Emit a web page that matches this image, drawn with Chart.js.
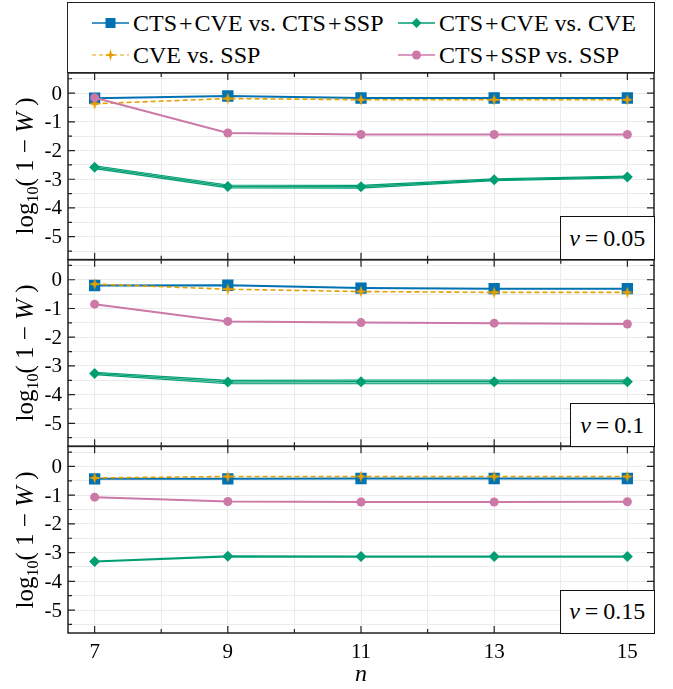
<!DOCTYPE html>
<html>
<head>
<meta charset="utf-8">
<script src="https://cdn.jsdelivr.net/npm/chart.js@4.4.1/dist/chart.umd.min.js"></script>
<style>
	body { margin: 0; background: #fff; }
	#wrap { position: relative; width: 673px; height: 689px; font-family: "Liberation Serif", serif; color: #000; }
	#chart { position: absolute; left: 0; top: 0; }
	.legend { position: absolute; left: 67px; top: 2px; width: 588px; height: 71px; box-sizing: border-box; border: 1.5px solid #222; background: #fff; }
	.item { position: absolute; height: 28px; display: flex; align-items: center; font-size: 24px; white-space: nowrap; }
	.item svg { margin-right: 3px; }
	.p { margin: 0 2px; }
	.ylab { position: absolute; font-size: 25px; white-space: nowrap; transform: translate(-50%, -50%) rotate(-90deg); }
	.ylab sub { font-size: 16px; vertical-align: -5px; }
	.vbox { position: absolute; box-sizing: border-box; border: 1.3px solid #111; background: #fff; font-size: 24px; display: flex; align-items: center; justify-content: center; }
</style>
</head>
<body>
<div id="wrap">
	<canvas id="chart" width="673" height="689"></canvas>
	<div class="legend"></div>
	<div class="item" style="left:92px;top:9px">
		<svg width="38" height="16"><line x1="0" y1="8" x2="37" y2="8" stroke="#0072B2" stroke-width="1.5"/><rect x="13.5" y="3" width="10" height="10" fill="#0072B2"/></svg>CTS<span class="p">+</span>CVE vs. CTS<span class="p">+</span>SSP
	</div>
	<div class="item" style="left:398px;top:9px">
		<svg width="38" height="16"><line x1="0" y1="8" x2="37" y2="8" stroke="#009E73" stroke-width="1.5"/><path d="M18.5 3 L23.5 8 L18.5 13 L13.5 8 Z" fill="#009E73"/></svg>CTS<span class="p">+</span>CVE vs. CVE
	</div>
	<div class="item" style="left:92px;top:41px">
		<svg width="38" height="16"><line x1="0" y1="8" x2="37" y2="8" stroke="#E69F00" stroke-width="1.2" stroke-dasharray="4 3"/><path d="M18.5 2 L19.8 6.7 L24.5 8 L19.8 9.3 L18.5 14 L17.2 9.3 L12.5 8 L17.2 6.7 Z" fill="#E69F00"/></svg>CVE vs. SSP
	</div>
	<div class="item" style="left:398px;top:41px">
		<svg width="38" height="16"><line x1="0" y1="8" x2="37" y2="8" stroke="#CC79A7" stroke-width="1.5"/><circle cx="18.5" cy="8" r="4.5" fill="#CC79A7"/></svg>CTS<span class="p">+</span>SSP vs. SSP
	</div>
</div>
<script>
const nValues = [7, 9, 11, 13, 15];
const xTickValues = [7, 8, 9, 10, 11, 12, 13, 14, 15];
const yTickValues = [-5.5, -5, -4.5, -4, -3.5, -3, -2.5, -2, -1.5, -1, -0.5, 0, 0.5];
const panelNames = ["0.05", "0.1", "0.15"];

// v = 0.05
const blue05 = [-0.18, -0.10, -0.17, -0.17, -0.17];
const green05 = [-2.58, -3.25, -3.26, -3.02, -2.92];
const greenLo05 = [-2.63, -3.30, -3.31, -3.05, -2.95];
const greenHi05 = [-2.53, -3.20, -3.21, -2.99, -2.89];
const orange05 = [-0.37, -0.19, -0.23, -0.23, -0.23];
const pink05 = [-0.16, -1.39, -1.44, -1.44, -1.44];

// v = 0.1
const blue10 = [-0.20, -0.19, -0.29, -0.31, -0.31];
const green10 = [-3.26, -3.56, -3.55, -3.55, -3.55];
const greenLo10 = [-3.30, -3.62, -3.62, -3.62, -3.62];
const greenHi10 = [-3.22, -3.50, -3.49, -3.49, -3.49];
const orange10 = [-0.15, -0.33, -0.41, -0.44, -0.44];
const pink10 = [-0.85, -1.45, -1.49, -1.51, -1.54];

// v = 0.15
const blue15 = [-0.43, -0.43, -0.42, -0.42, -0.42];
const green15 = [-3.31, -3.13, -3.14, -3.14, -3.14];
const orange15 = [-0.40, -0.35, -0.35, -0.35, -0.35];
const pink15 = [-1.07, -1.22, -1.24, -1.24, -1.23];

const BLUE = "#0072B2", GREEN = "#009E73", ORANGE = "#E69F00", PINK = "#CC79A7";
const FONT = "'Liberation Serif', serif";
const GRID = "#ebebeb";

const isWhole = v => Math.abs(v - Math.round(v)) < 1e-6;

// 4 pointed star for the CVE vs. SSP markers
const star = document.createElement("canvas");
star.width = 14;
star.height = 14;
{
	const c = star.getContext("2d");
	c.fillStyle = ORANGE;
	c.beginPath();
	c.moveTo(7, 1); c.lineTo(8.4, 5.6); c.lineTo(13, 7); c.lineTo(8.4, 8.4);
	c.lineTo(7, 13); c.lineTo(5.6, 8.4); c.lineTo(1, 7); c.lineTo(5.6, 5.6);
	c.closePath();
	c.fill();
}

const styles = {
	blue: { borderColor: BLUE, backgroundColor: BLUE, borderWidth: 2, pointStyle: "rect", pointRadius: 8, pointBorderWidth: 0, order: 5 },
	green: { borderColor: GREEN, backgroundColor: GREEN, borderWidth: 2.2, pointStyle: "rectRot", pointRadius: 5.5, pointBorderWidth: 0, order: 3 },
	orange: { borderColor: ORANGE, backgroundColor: ORANGE, borderWidth: 1.6, borderDash: [5, 3], pointStyle: star, pointRadius: 7, pointBorderWidth: 0, order: 2 },
	pink: { borderColor: PINK, backgroundColor: PINK, borderWidth: 2, pointStyle: "circle", pointRadius: 4.5, pointBorderWidth: 0, order: 1 },
	band: { borderColor: GREEN, borderWidth: 1.2, pointRadius: 0, backgroundColor: "rgba(0,158,115,0.35)", order: 4 }
};

function series(values, axis, style, extra) {
	return Object.assign({ data: values.map((v, i) => ({ x: nValues[i], y: v })), yAxisID: axis, fill: false }, styles[style], extra || {});
}

const datasets = [
	series(blue05, "y1", "blue"),
	series(greenLo05, "y1", "band"),
	series(greenHi05, "y1", "band", { fill: "-1" }),
	series(green05, "y1", "green", { borderWidth: 1.2 }),
	series(orange05, "y1", "orange"),
	series(pink05, "y1", "pink"),

	series(blue10, "y2", "blue"),
	series(greenLo10, "y2", "band"),
	series(greenHi10, "y2", "band", { fill: "-1" }),
	series(green10, "y2", "green", { borderWidth: 1.2 }),
	series(orange10, "y2", "orange"),
	series(pink10, "y2", "pink"),

	series(blue15, "y3", "blue"),
	series(green15, "y3", "green"),
	series(orange15, "y3", "orange"),
	series(pink15, "y3", "pink")
];

function panelScale() {
	return {
		type: "linear",
		position: "left",
		stack: "panels",
		stackWeight: 1,
		min: -5.8,
		max: 0.7,
		afterBuildTicks: s => { s.ticks = yTickValues.map(v => ({ value: v })); },
		afterFit: s => { s.width = 68; },
		border: { display: false },
		grid: { color: GRID, drawTicks: false },
		ticks: { display: false }
	};
}

// frame, inward ticks on all four sides and y tick labels of each panel
const framePlugin = {
	id: "frame",
	afterDraw(chart) {
		const ctx = chart.ctx;
		const x = chart.scales.x;
		const area = chart.chartArea;
		ctx.save();
		ctx.strokeStyle = "#222";
		ctx.fillStyle = "#000";
		ctx.font = "21px " + FONT;
		ctx.textAlign = "right";
		ctx.textBaseline = "middle";
		for (const id of ["y1", "y2", "y3"]) {
			const y = chart.scales[id];
			ctx.lineWidth = 1.2;
			ctx.beginPath();
			yTickValues.forEach(v => {
				const len = isWhole(v) ? 7 : 4;
				const py = y.getPixelForValue(v);
				ctx.moveTo(area.left, py); ctx.lineTo(area.left + len, py);
				ctx.moveTo(area.right, py); ctx.lineTo(area.right - len, py);
				if (isWhole(v)) ctx.fillText(String(v), area.left - 6, py + 1);
			});
			xTickValues.forEach(v => {
				const len = v % 2 ? 7 : 4;
				const px = x.getPixelForValue(v);
				ctx.moveTo(px, y.top); ctx.lineTo(px, y.top + len);
				ctx.moveTo(px, y.bottom); ctx.lineTo(px, y.bottom - len);
			});
			ctx.stroke();
			ctx.lineWidth = 1.5;
			ctx.strokeRect(area.left, y.top, area.right - area.left, y.bottom - y.top);
		}
		ctx.restore();
	}
};

const chart = new Chart(document.getElementById("chart"), {
	type: "line",
	data: { datasets },
	options: {
		responsive: false,
		animation: false,
		layout: { padding: { top: 73, right: 19, left: 0, bottom: 0 } },
		plugins: { legend: { display: false }, tooltip: { enabled: false } },
		scales: {
			x: {
				type: "linear",
				min: 6.6,
				max: 15.4,
				afterBuildTicks: s => { s.ticks = xTickValues.map(v => ({ value: v })); },
				afterFit: s => { s.height = 56; },
				border: { display: false },
				grid: { color: GRID, drawTicks: false },
				ticks: {
					autoSkip: false,
					maxRotation: 0,
					padding: 7,
					color: "#000",
					font: { family: FONT, size: 21 },
					callback: v => v % 2 ? String(v) : ""
				},
				title: {
					display: true,
					text: "n",
					color: "#000",
					font: { family: FONT, size: 24, style: "italic" },
					padding: { top: 0, bottom: 0 }
				}
			},
			// stacked panels are laid out last key on top
			y3: panelScale(),
			y2: panelScale(),
			y1: panelScale()
		}
	},
	plugins: [framePlugin]
});

// axis labels and v boxes, placed from the panel scales
const wrap = document.getElementById("wrap");
["y1", "y2", "y3"].forEach((id, i) => {
	const s = chart.scales[id];
	const lab = document.createElement("div");
	lab.className = "ylab";
	lab.innerHTML = "log<sub>10</sub>( 1 &minus; <i>W</i> )";
	lab.style.left = "26px";
	lab.style.top = ((s.top + s.bottom) / 2) + "px";
	wrap.appendChild(lab);

	const box = document.createElement("div");
	box.className = "vbox";
	const w = i === 1 ? 85 : 95;
	box.style.width = w + "px";
	box.style.height = "44px";
	box.style.left = (chart.chartArea.right - w + 0.75) + "px";
	box.style.top = (s.bottom - 44 + 0.75) + "px";
	box.innerHTML = "<i>v</i>&#8201;=&#8201;" + panelNames[i];
	wrap.appendChild(box);
});
</script>
</body>
</html>
